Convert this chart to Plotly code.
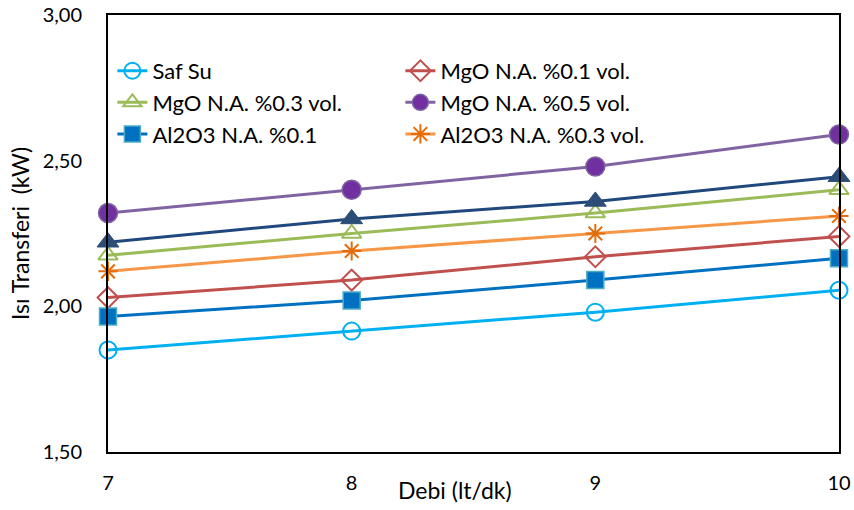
import plotly.graph_objects as go

# Flow rate (lt/dk)
debi = [7, 8, 9, 10]

# Heat transfer (kW) per fluid
saf_su = [1.85, 1.915, 1.98, 2.055]
mgo_01 = [2.03, 2.09, 2.17, 2.24]
mgo_03 = [2.175, 2.25, 2.32, 2.40]
mgo_05 = [2.32, 2.40, 2.48, 2.59]
al2o3_01 = [1.965, 2.02, 2.09, 2.165]
al2o3_03 = [2.12, 2.19, 2.25, 2.31]
al2o3_05 = [2.22, 2.30, 2.36, 2.445]

y_ticks = [1.5, 2.0, 2.5, 3.0]

FONT = "Lato"

series = [
    # name, values, line color, marker spec, legend id
    ("Saf Su", saf_su, "#00B0F0",
     dict(symbol="circle-open", size=17, color="#00B0F0", line=dict(width=2, color="#00B0F0")), "legend"),
    ("MgO N.A. %0.1 vol.", mgo_01, "#C0504D",
     dict(symbol="diamond-open", size=16, color="#C0504D", line=dict(width=2, color="#C0504D")), "legend2"),
    ("MgO N.A. %0.3 vol.", mgo_03, "#9BBB59",
     dict(symbol="triangle-up-open", size=17, color="#9BBB59", line=dict(width=2, color="#9BBB59")), "legend"),
    ("MgO N.A. %0.5 vol.", mgo_05, "#8064A2",
     dict(symbol="circle", size=19, color="#7030A0", line=dict(width=1.5, color="#8064A2")), "legend2"),
    ("Al2O3 N.A. %0.1", al2o3_01, "#0070C0",
     dict(symbol="square", size=17, color="#0070C0", line=dict(width=1.5, color="#4BACC6")), "legend"),
    ("Al2O3 N.A. %0.3 vol.", al2o3_03, "#F79646",
     dict(symbol="asterisk-open", size=16, color="#E46C0A", line=dict(width=2, color="#E46C0A")), "legend2"),
    ("Al2O3 N.A. %0.5 vol.", al2o3_05, "#1F497D",
     dict(symbol="triangle-up", size=19, color="#2C4D75", line=dict(width=1, color="#2C4D75")), None),
]

fig = go.Figure()
for i, (name, vals, lc, mk, lg) in enumerate(series):
    fig.add_trace(go.Scatter(
        x=debi, y=vals, name=name, mode="lines+markers",
        line=dict(color=lc, width=3), marker=mk, cliponaxis=False,
        legendgroup=f"g{i}", legend=lg if lg else "legend",
        showlegend=lg is not None,
    ))

legend_common = dict(
    font=dict(family=FONT, size=22, color="#000000"),
    bgcolor="rgba(0,0,0,0)", borderwidth=0,
    tracegroupgap=4, xanchor="left", yanchor="top",
    traceorder="normal",
)

fig.update_layout(
    width=854, height=510,
    margin=dict(l=108, r=15, t=15, b=58, autoexpand=False),
    paper_bgcolor="white", plot_bgcolor="white",
    separators=",.",
    font=dict(family=FONT, size=20, color="#000000"),
    showlegend=True,
    legend=dict(x=0.006, y=0.92, **legend_common),
    legend2=dict(x=0.4, y=0.92, **legend_common),
    xaxis=dict(
        range=[7, 10], tickvals=debi, ticks="", showgrid=False, zeroline=False,
        showline=True, linecolor="#000000", linewidth=2, mirror=True,
        tickfont=dict(family=FONT, size=20), ticklabelstandoff=12,
        automargin=False,
    ),
    yaxis=dict(
        range=[1.5, 3.0], tickvals=y_ticks, tickformat=".2f", ticks="",
        showgrid=False, zeroline=False,
        showline=True, linecolor="#000000", linewidth=2, mirror=True,
        tickfont=dict(family=FONT, size=20), ticklabelstandoff=20,
        title=dict(text="Isı Transferi  (kW)", font=dict(family=FONT, size=23), standoff=7),
        automargin=False,
    ),
    annotations=[dict(
        text="Debi (lt/dk)", xref="paper", yref="paper", x=0.475, y=-0.087,
        xanchor="center", yanchor="middle", showarrow=False,
        font=dict(family=FONT, size=23, color="#000000"),
    )],
)

fig.write_html("out.html")
